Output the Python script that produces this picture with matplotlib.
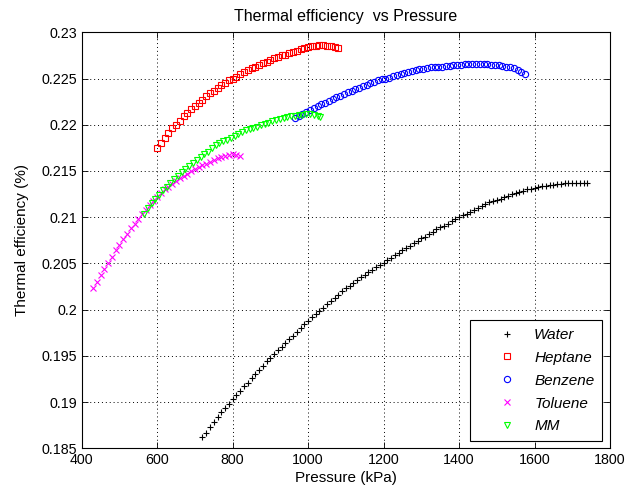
import numpy
import matplotlib
matplotlib.use('Agg')
import matplotlib.pyplot as plt
import matplotlib.ticker as ticker

plt.rcParams['font.family'] = ['Liberation Sans', 'DejaVu Sans']

##pressure (kPa) and thermal efficiency for each working fluid
water_p = [720, 730, 740, 750, 760, 770, 780, 790, 800, 810, 820, 830, 840, 850, 860, 870, 880, 890,
           900, 910, 920, 930, 940, 950, 960, 970, 980, 990, 1000, 1010, 1020, 1030, 1040, 1050,
           1060, 1070, 1080, 1090, 1100, 1110, 1120, 1130, 1140, 1150, 1160, 1170, 1180, 1190,
           1200, 1210, 1220, 1230, 1240, 1250, 1260, 1270, 1280, 1290, 1300, 1310, 1320, 1330,
           1340, 1350, 1360, 1370, 1380, 1390, 1400, 1410, 1420, 1430, 1440, 1450, 1460, 1470,
           1480, 1490, 1500, 1510, 1520, 1530, 1540, 1550, 1560, 1570, 1580, 1590, 1600, 1610,
           1620, 1630, 1640, 1650, 1660, 1670, 1680, 1690, 1700, 1710, 1720, 1730, 1740]
water_eff = [0.1862, 0.1867, 0.1873, 0.1879, 0.1884, 0.1889, 0.1894, 0.1898, 0.1903, 0.1908,
             0.1912, 0.1917, 0.1921, 0.1926, 0.1930, 0.1935, 0.1939, 0.1944, 0.1948, 0.1952,
             0.1956, 0.1960, 0.1964, 0.1968, 0.1972, 0.1976, 0.1980, 0.1984, 0.1988, 0.1992,
             0.1995, 0.1999, 0.2002, 0.2006, 0.2009, 0.2013, 0.2016, 0.2020, 0.2023, 0.2026,
             0.2029, 0.2032, 0.2035, 0.2038, 0.2041, 0.2043, 0.2046, 0.2048, 0.2051, 0.2054,
             0.2056, 0.2059, 0.2061, 0.2064, 0.2067, 0.2069, 0.2072, 0.2074, 0.2077, 0.2079,
             0.2082, 0.2084, 0.2087, 0.2089, 0.2091, 0.2093, 0.2096, 0.2098, 0.2100, 0.2102,
             0.2104, 0.2106, 0.2108, 0.2110, 0.2112, 0.2114, 0.2116, 0.2117, 0.2119, 0.2120,
             0.2122, 0.2123, 0.2125, 0.2126, 0.2127, 0.2128, 0.2130, 0.2131, 0.2132, 0.2133,
             0.2134, 0.2134, 0.2135, 0.2135, 0.2136, 0.2136, 0.2137, 0.2137, 0.2137, 0.2137,
             0.2137, 0.2137, 0.2137]

heptane_p = [600, 610, 620, 630, 640, 650, 660, 670, 680, 690, 700, 710, 720, 730, 740, 750,
             760, 770, 780, 790, 800, 810, 820, 830, 840, 850, 860, 870, 880, 890, 900, 910,
             920, 930, 940, 950, 960, 970, 980, 990, 1000, 1010, 1020, 1030, 1040, 1050, 1060,
             1070, 1080]
heptane_eff = [0.2175, 0.2180, 0.2186, 0.2191, 0.2196, 0.2200, 0.2204, 0.2209, 0.2213, 0.2217,
               0.2220, 0.2224, 0.2227, 0.2231, 0.2234, 0.2237, 0.2240, 0.2243, 0.2245, 0.2248,
               0.2250, 0.2252, 0.2255, 0.2257, 0.2259, 0.2261, 0.2263, 0.2265, 0.2267, 0.2268,
               0.2270, 0.2272, 0.2273, 0.2275, 0.2276, 0.2278, 0.2279, 0.2280, 0.2282, 0.2283,
               0.2284, 0.2285, 0.2285, 0.2286, 0.2286, 0.2285, 0.2285, 0.2284, 0.2283]

benzene_p = [965, 975, 985, 995, 1005, 1015, 1025, 1035, 1045, 1055, 1065, 1075, 1085, 1095,
             1105, 1115, 1125, 1135, 1145, 1155, 1165, 1175, 1185, 1195, 1205, 1215, 1225, 1235,
             1245, 1255, 1265, 1275, 1285, 1295, 1305, 1315, 1325, 1335, 1345, 1355, 1365, 1375,
             1385, 1395, 1405, 1415, 1425, 1435, 1445, 1455, 1465, 1475, 1485, 1495, 1505, 1515,
             1525, 1535, 1545, 1555, 1565, 1575]
benzene_eff = [0.2207, 0.2209, 0.2212, 0.2214, 0.2216, 0.2218, 0.2220, 0.2222, 0.2224, 0.2226,
               0.2228, 0.2230, 0.2231, 0.2233, 0.2235, 0.2237, 0.2239, 0.2240, 0.2242, 0.2243,
               0.2245, 0.2246, 0.2248, 0.2249, 0.2250, 0.2251, 0.2253, 0.2254, 0.2255, 0.2256,
               0.2257, 0.2258, 0.2259, 0.2260, 0.2260, 0.2261, 0.2262, 0.2262, 0.2263, 0.2263,
               0.2264, 0.2264, 0.2265, 0.2265, 0.2265, 0.2266, 0.2266, 0.2266, 0.2266, 0.2266,
               0.2266, 0.2266, 0.2265, 0.2265, 0.2265, 0.2264, 0.2263, 0.2262, 0.2261, 0.2259,
               0.2257, 0.2255]

toluene_p = [430, 440, 450, 460, 470, 480, 490, 500, 510, 520, 530, 540, 550, 560, 570, 580,
             590, 600, 610, 620, 630, 640, 650, 660, 670, 680, 690, 700, 710, 720, 730, 740,
             750, 760, 770, 780, 790, 800, 810, 820]
toluene_eff = [0.2023, 0.2030, 0.2037, 0.2044, 0.2051, 0.2057, 0.2064, 0.2070, 0.2076, 0.2082,
               0.2088, 0.2093, 0.2098, 0.2103, 0.2108, 0.2113, 0.2118, 0.2122, 0.2126, 0.2130,
               0.2133, 0.2136, 0.2139, 0.2142, 0.2145, 0.2147, 0.2150, 0.2152, 0.2154, 0.2156,
               0.2158, 0.2160, 0.2162, 0.2164, 0.2165, 0.2166, 0.2167, 0.2168, 0.2167, 0.2166]

mm_p = [565, 575, 585, 595, 605, 615, 625, 635, 645, 655, 665, 675, 685, 695, 705, 715, 725,
        735, 745, 755, 765, 775, 785, 795, 805, 815, 825, 835, 845, 855, 865, 875, 885, 895,
        905, 915, 925, 935, 945, 955, 965, 975, 985, 995, 1005, 1015, 1025, 1032]
mm_eff = [0.2104, 0.2110, 0.2115, 0.2120, 0.2124, 0.2129, 0.2133, 0.2137, 0.2141, 0.2145,
          0.2149, 0.2152, 0.2155, 0.2159, 0.2162, 0.2165, 0.2168, 0.2171, 0.2175, 0.2178,
          0.2180, 0.2182, 0.2184, 0.2186, 0.2188, 0.2190, 0.2192, 0.2194, 0.2195, 0.2197,
          0.2198, 0.2200, 0.2201, 0.2202, 0.2204, 0.2205, 0.2206, 0.2207, 0.2208, 0.2209,
          0.2210, 0.2211, 0.2211, 0.2212, 0.2212, 0.2211, 0.2210, 0.2208]

fig = plt.figure(figsize=(6.25, 4.95), dpi=100)
ax = fig.add_axes([0.1307, 0.0943, 0.8453, 0.8404])

ax.plot(water_p, water_eff, '+', color='k', markersize=5, markeredgewidth=0.8, label='Water')
ax.plot(heptane_p, heptane_eff, 's', color='#ff0000', mfc='none', markersize=5, markeredgewidth=0.8, label='Heptane')
ax.plot(benzene_p, benzene_eff, 'o', color='#0000ff', mfc='none', markersize=4.5, markeredgewidth=0.8, label='Benzene')
ax.plot(toluene_p, toluene_eff, 'x', color='#ff00ff', markersize=5, markeredgewidth=0.8, label='Toluene')
ax.plot(mm_p, mm_eff, 'v', color='#00ff00', mfc='none', markersize=5, markeredgewidth=0.8, label='MM')

ax.set_xlim(400, 1800)
ax.set_ylim(0.185, 0.23)
ax.xaxis.set_major_locator(ticker.MultipleLocator(200))
ax.yaxis.set_major_locator(ticker.MultipleLocator(0.005))
ax.yaxis.set_major_formatter(ticker.FormatStrFormatter('%g'))
ax.tick_params(direction='in', top=True, right=True, length=4, width=0.6, labelsize=10.3)
for s in ax.spines.values():
    s.set_linewidth(0.8)
ax.grid(True, color='k', linestyle=(0, (1, 3)), linewidth=0.7)

ax.set_title("Thermal efficiency  vs Pressure", fontsize=11.5, pad=8)
ax.set_xlabel("Pressure (kPa)", fontsize=11, labelpad=3)
ax.set_ylabel("Thermal efficiency (%)", fontsize=11, labelpad=9)

leg = ax.legend(loc='lower right', bbox_to_anchor=(0.985, 0.0175), borderaxespad=0,
                fancybox=False, framealpha=1, edgecolor='k', numpoints=1,
                prop={'style': 'italic', 'size': 11}, borderpad=0.5, handlelength=3.9,
                handletextpad=-0.2, labelspacing=0.58)
leg.get_frame().set_linewidth(0.8)

plt.savefig("out.png", dpi=100)
